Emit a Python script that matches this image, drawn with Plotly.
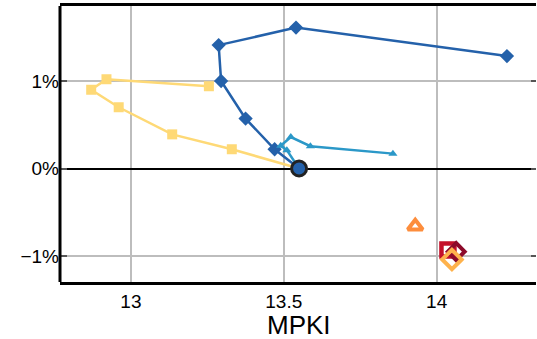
import plotly.graph_objects as go

# MPKI vs. relative change, one trajectory per configuration sweep
origin_x = [13.55]
origin_y = [0.0]

yellow_x = [13.55, 13.33, 13.135, 12.96, 12.87, 12.92, 13.255]
yellow_y = [0.0, 0.22, 0.39, 0.70, 0.90, 1.02, 0.94]

darkblue_x = [13.55, 13.47, 13.375, 13.295, 13.287, 13.54, 14.23]
darkblue_y = [0.0, 0.22, 0.57, 1.00, 1.41, 1.61, 1.285]

lightblue_x = [13.55, 13.51, 13.49, 13.523, 13.587, 13.857]
lightblue_y = [0.0, 0.21, 0.26, 0.36, 0.255, 0.17]

orange_tri = ([13.93], [-0.66])
red_sq = ([14.037], [-0.93])
darkred_dia = ([14.064], [-0.95])
amber_dia = ([14.05], [-1.04])

x_ticks = [13, 13.5, 14]
x_labels = ["13", "13.5", "14"]
y_ticks = [-1, 0, 1]
y_labels = ["\u22121%", "0%", "1%"]
y_range = [-1.297, 1.857]
x_title = "MPKI"

fig = go.Figure()

fig.add_trace(go.Scatter(
    x=yellow_x, y=yellow_y, mode="lines+markers",
    line=dict(color="#fed976", width=2.5),
    marker=dict(symbol="square", size=10, color="#fed976"),
))
fig.add_trace(go.Scatter(
    x=darkblue_x, y=darkblue_y, mode="lines+markers",
    line=dict(color="#2461aa", width=2.5),
    marker=dict(symbol="diamond", size=11, color="#2461aa"),
))
fig.add_trace(go.Scatter(
    x=lightblue_x, y=lightblue_y, mode="lines+markers",
    line=dict(color="#2b98c8", width=2.5),
    marker=dict(symbol="triangle-up", size=8, color="#2b98c8"),
))
fig.add_trace(go.Scatter(
    x=orange_tri[0], y=orange_tri[1], mode="markers",
    marker=dict(symbol="triangle-up-open", size=13, color="#fd8d3c",
                line=dict(width=4, color="#fd8d3c")),
))
fig.add_trace(go.Scatter(
    x=red_sq[0], y=red_sq[1], mode="markers",
    marker=dict(symbol="square-open", size=13, color="#c4102a",
                line=dict(width=4.5, color="#c4102a")),
))
fig.add_trace(go.Scatter(
    x=darkred_dia[0], y=darkred_dia[1], mode="markers",
    marker=dict(symbol="diamond-open", size=13, color="#8c0a2a",
                line=dict(width=4, color="#8c0a2a")),
))
fig.add_trace(go.Scatter(
    x=amber_dia[0], y=amber_dia[1], mode="markers",
    marker=dict(symbol="diamond-open", size=15, color="#feb24c",
                line=dict(width=4, color="#feb24c")),
))
fig.add_trace(go.Scatter(
    x=origin_x, y=origin_y, mode="markers",
    marker=dict(symbol="circle", size=15, color="#2461aa",
                line=dict(width=3, color="#222222")),
))
# carrier for the right-hand tick marks
fig.add_trace(go.Scatter(x=[13.5], y=[0], yaxis="y2", mode="markers",
                         marker=dict(opacity=0), showlegend=False,
                         hoverinfo="skip"))

fig.update_layout(
    width=537, height=339,
    margin=dict(l=60, r=1, t=6, b=57),
    paper_bgcolor="white", plot_bgcolor="white",
    showlegend=False,
    font=dict(family="Liberation Sans, Arial, sans-serif", size=19, color="black"),
    xaxis=dict(
        range=[12.768, 14.325],
        tickvals=x_ticks, ticktext=x_labels,
        showgrid=True, gridcolor="#bdbdbd", gridwidth=1.5,
        zeroline=False,
        showline=True, linecolor="black", linewidth=3, mirror=True,
        ticks="", ticklen=0,
    ),
    yaxis=dict(
        range=y_range,
        tickvals=y_ticks, ticktext=y_labels,
        showgrid=True, gridcolor="#bdbdbd", gridwidth=1.5,
        zeroline=True, zerolinecolor="black", zerolinewidth=1.5,
        showline=False,
        ticks="inside", ticklen=7, tickwidth=1.5, tickcolor="#555555",
    ),
    yaxis2=dict(
        range=y_range, overlaying="y", side="right",
        tickvals=y_ticks, showticklabels=False,
        showgrid=False, zeroline=False, showline=False,
        ticks="inside", ticklen=5, tickwidth=1.5, tickcolor="#555555",
    ),
    shapes=[dict(type="line", xref="paper", yref="paper",
                 x0=0, x1=0, y0=0, y1=1,
                 line=dict(color="black", width=3))],
    annotations=[dict(text=x_title, xref="x", yref="paper",
                      x=13.55, y=-0.155, yanchor="middle", xanchor="center",
                      showarrow=False, font=dict(size=26))],
)

fig.write_html("out.html")
